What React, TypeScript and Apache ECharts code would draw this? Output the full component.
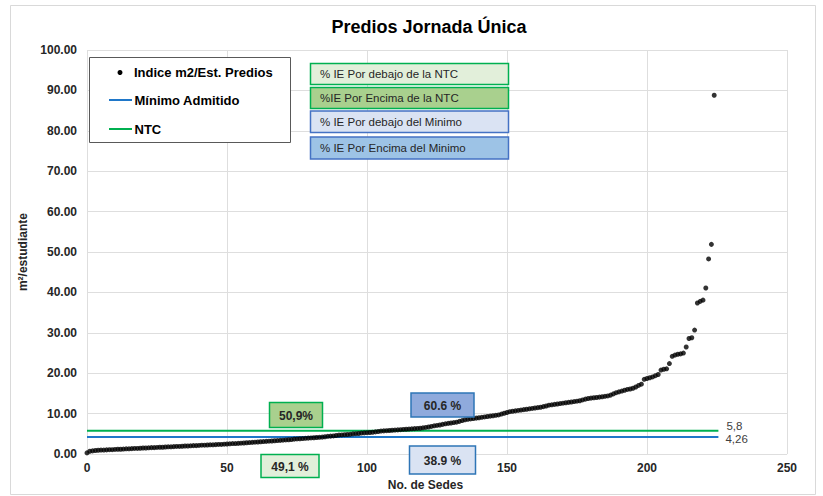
import React, { useEffect, useRef } from "react";
import * as echarts from "echarts";

// Indice m2/Est. Predios, sorted ascending (index = sede number)
const valuesLow = [
  0.3, 0.7, 0.8, 0.9, 0.95, 1.0, 1.0, 1.05, 1.1, 1.1, 1.15,
  1.2, 1.2, 1.25, 1.3, 1.3, 1.35, 1.4, 1.4, 1.45, 1.5,
  1.5, 1.55, 1.6, 1.6, 1.65, 1.7, 1.7, 1.75, 1.8, 1.8,
  1.85, 1.9, 1.9, 1.95, 2.0, 2.0, 2.05, 2.1, 2.1, 2.15,
  2.2, 2.2, 2.25, 2.3, 2.3, 2.35, 2.4, 2.4, 2.45, 2.5,
  2.55, 2.6, 2.6, 2.65, 2.7, 2.75, 2.8, 2.85, 2.9, 2.95,
];
const valuesMid = [
  3.0, 3.05, 3.1, 3.15, 3.2, 3.25, 3.3, 3.35, 3.4, 3.45,
  3.5, 3.55, 3.6, 3.7, 3.75, 3.8, 3.85, 3.9, 3.95, 4.0,
  4.05, 4.1, 4.15, 4.2, 4.3, 4.4, 4.45, 4.5, 4.6, 4.7,
  4.75, 4.8, 4.85, 4.9, 5.0, 5.05, 5.1, 5.2, 5.25, 5.3,
  5.35, 5.4, 5.5, 5.6, 5.7, 5.75, 5.8, 5.85, 5.9, 5.95,
  6.0, 6.05, 6.1, 6.15, 6.2, 6.25, 6.3, 6.35, 6.4, 6.5,
  6.6, 6.7, 6.85, 7.0, 7.1, 7.2, 7.35, 7.5, 7.6, 7.7,
  7.8, 7.9, 8.1, 8.3, 8.5, 8.6, 8.7, 8.8, 8.9, 9.0,
  9.1, 9.2, 9.3, 9.4, 9.5, 9.6, 9.7, 9.9, 10.1, 10.3,
];
const valuesHigh = [
  10.5, 10.6, 10.7, 10.8, 10.9, 11.0, 11.1, 11.2, 11.3, 11.4,
  11.5, 11.6, 11.75, 11.9, 12.1, 12.2, 12.3, 12.4, 12.5, 12.6,
  12.7, 12.8, 12.9, 13.0, 13.1, 13.2, 13.4, 13.6, 13.75, 13.85,
  13.95, 14.0, 14.1, 14.2, 14.3, 14.4, 14.6, 14.9, 15.2, 15.4,
  15.6, 15.8, 16.0, 16.1, 16.3, 16.6, 17.0, 17.3,
];
const valuesTail = [
  18.5, 18.7, 18.9, 19.1, 19.4, 19.7,
  20.8, 21.0, 21.1,
  22.4,
  24.2, 24.5, 24.7, 24.8, 25.0,
  26.5,
  28.6, 28.8,
  30.7,
  37.4, 37.8, 38.1,
  41.1, 48.3, 51.9, 88.8,
];

const ntcValue = 5.8;
const minimoValue = 4.26;
const refLineXRange = [0, 225.5];
const ntcLabel = "5,8";
const minimoLabel = "4,26";

const legendBoxTexts = [
  "% IE Por debajo de la NTC",
  "%IE Por Encima de la NTC",
  "% IE Por debajo del Minimo",
  "% IE Por Encima del Minimo",
];
const pctTexts = ["50,9%", "49,1 %", "60.6 %", "38.9 %"];

const FONT = "'Liberation Sans', Arial, sans-serif";
const ZTOP = 100;

export default function App() {
  const ref = useRef<HTMLDivElement>(null);

  useEffect(() => {
    if (!ref.current) return;
    const chart = echarts.init(ref.current, undefined, { renderer: "svg" });

    const allValues = [...valuesLow, ...valuesMid, ...valuesHigh, ...valuesTail];
    const points = allValues.map((v, i) => [i, v]);

    const boxFills = ["#e2efda", "#a9d08e", "#dae3f3", "#9dc3e6"];
    const boxStrokes = ["#00b050", "#00b050", "#4472c4", "#4472c4"];
    const boxYs = [63.5, 87.5, 111, 137];
    const boxHs = [21, 21, 21.5, 22];

    const legendBoxes: any[] = [];
    legendBoxTexts.forEach((t, k) => {
      legendBoxes.push({
        type: "rect",
        z: ZTOP,
        shape: { x: 310.5, y: boxYs[k], width: 198, height: boxHs[k] },
        style: { fill: boxFills[k], stroke: boxStrokes[k], lineWidth: 1.5 },
      });
      legendBoxes.push({
        type: "text",
        z: ZTOP + 1,
        x: 320,
        y: boxYs[k] + boxHs[k] / 2,
        style: {
          text: t,
          font: `11.5px ${FONT}`,
          fill: "#262626",
          verticalAlign: "middle",
          align: "left",
        },
      });
    });

    const pctBoxes: any[] = [];
    [
      { x: 269.5, y: 402.5, w: 53, h: 25, fill: "#a9d08e", stroke: "#00b050" },
      { x: 261, y: 454.5, w: 58, h: 23, fill: "#e2efda", stroke: "#00b050" },
      { x: 411, y: 393, w: 63, h: 24, fill: "#8faadc", stroke: "#2e75b6" },
      { x: 409.5, y: 446, w: 66, h: 28, fill: "#dae3f3", stroke: "#2e75b6" },
    ].forEach((b, k) => {
      pctBoxes.push({
        type: "rect",
        z: ZTOP,
        shape: { x: b.x, y: b.y, width: b.w, height: b.h },
        style: { fill: b.fill, stroke: b.stroke, lineWidth: 1.5 },
      });
      pctBoxes.push({
        type: "text",
        z: ZTOP + 1,
        x: b.x + b.w / 2,
        y: b.y + b.h / 2 + 0.5,
        style: {
          text: pctTexts[k],
          font: `bold 12px ${FONT}`,
          fill: "#262626",
          align: "center",
          verticalAlign: "middle",
        },
      });
    });

    const legendItems: any[] = [
      {
        type: "rect",
        z: ZTOP,
        shape: { x: 89.5, y: 57.5, width: 201, height: 85 },
        style: { fill: "#ffffff", stroke: "#595959", lineWidth: 1 },
      },
      {
        type: "circle",
        z: ZTOP + 1,
        shape: { cx: 120, cy: 72.5, r: 2.5 },
        style: { fill: "#000000" },
      },
      {
        type: "text",
        z: ZTOP + 1,
        x: 134,
        y: 72.5,
        style: {
          text: "Indice m2/Est. Predios",
          font: `bold 13px ${FONT}`,
          fill: "#000000",
          verticalAlign: "middle",
        },
      },
      {
        type: "line",
        z: ZTOP + 1,
        shape: { x1: 109, y1: 100, x2: 132, y2: 100 },
        style: { stroke: "#1f77c9", lineWidth: 2 },
      },
      {
        type: "text",
        z: ZTOP + 1,
        x: 134.5,
        y: 100,
        style: {
          text: "Mínimo Admitido",
          font: `bold 13px ${FONT}`,
          fill: "#000000",
          verticalAlign: "middle",
        },
      },
      {
        type: "line",
        z: ZTOP + 1,
        shape: { x1: 109, y1: 129, x2: 132, y2: 129 },
        style: { stroke: "#00b050", lineWidth: 2 },
      },
      {
        type: "text",
        z: ZTOP + 1,
        x: 134.5,
        y: 129,
        style: {
          text: "NTC",
          font: `bold 13px ${FONT}`,
          fill: "#000000",
          verticalAlign: "middle",
        },
      },
    ];

    const option: any = {
      animation: false,
      backgroundColor: "#ffffff",
      title: {
        text: "Predios Jornada Única",
        left: 424,
        top: 13,
        textAlign: "center",
        textStyle: { fontFamily: FONT, fontWeight: "bold", fontSize: 18, color: "#000000" },
      },
      grid: { left: 87, right: 36, top: 50, bottom: 37, containLabel: false },
      xAxis: {
        type: "value",
        min: 0,
        max: 250,
        interval: 50,
        name: "No. de Sedes",
        nameLocation: "middle",
        nameGap: 20,
        nameTextStyle: {
          fontFamily: FONT,
          fontWeight: "bold",
          fontSize: 12,
          color: "#262626",
          padding: [0, 23, 0, 0],
        },
        axisLine: { show: false },
        axisTick: { show: false },
        axisLabel: {
          margin: 8,
          fontFamily: FONT,
          fontWeight: "bold",
          fontSize: 12,
          color: "#262626",
        },
        splitLine: { show: true, lineStyle: { color: "#dedede", width: 1 } },
      },
      yAxis: {
        type: "value",
        min: 0,
        max: 100,
        interval: 10,
        name: "m²/estudiante",
        nameLocation: "middle",
        nameGap: 46,
        nameTextStyle: {
          fontFamily: FONT,
          fontWeight: "bold",
          fontSize: 12,
          color: "#262626",
        },
        axisLine: { show: false },
        axisTick: { show: false },
        axisLabel: {
          margin: 10,
          fontFamily: FONT,
          fontWeight: "bold",
          fontSize: 12,
          color: "#262626",
          formatter: (v: number) => v.toFixed(2),
        },
        splitLine: { show: true, lineStyle: { color: "#dedede", width: 1 } },
      },
      series: [
        {
          name: "NTC",
          type: "line",
          data: [
            [refLineXRange[0], ntcValue],
            [refLineXRange[1], ntcValue],
          ],
          symbol: "none",
          lineStyle: { color: "#00b050", width: 2 },
          z: 2,
          endLabel: {
            show: true,
            formatter: () => ntcLabel,
            distance: 8,
            offset: [0, -5],
            fontFamily: FONT,
            fontSize: 11.5,
            lineHeight: 11,
            color: "#404040",
          },
        },
        {
          name: "Mínimo Admitido",
          type: "line",
          data: [
            [refLineXRange[0], minimoValue],
            [refLineXRange[1], minimoValue],
          ],
          symbol: "none",
          lineStyle: { color: "#1f77c9", width: 2 },
          z: 2,
          endLabel: {
            show: true,
            formatter: () => minimoLabel,
            distance: 7,
            offset: [0, 2],
            fontFamily: FONT,
            fontSize: 11.5,
            lineHeight: 11,
            color: "#404040",
          },
        },
        {
          name: "Indice m2/Est. Predios",
          type: "scatter",
          data: points,
          symbol: "circle",
          symbolSize: 5,
          itemStyle: { color: "#000000" },
          z: 3,
        },
      ],
      graphic: [
        {
          type: "rect",
          z: -10,
          shape: { x: 10.5, y: 5.5, width: 805, height: 489 },
          style: { fill: "none", stroke: "#d9d9d9", lineWidth: 1 },
          silent: true,
        },
        ...legendItems,
        ...legendBoxes,
        ...pctBoxes,
      ],
    };

    chart.setOption(option);
    return () => chart.dispose();
  }, []);

  return (
    <div
      ref={ref}
      style={{ position: "fixed", left: 0, top: 0, width: 823, height: 496, background: "#fff" }}
    />
  );
}
